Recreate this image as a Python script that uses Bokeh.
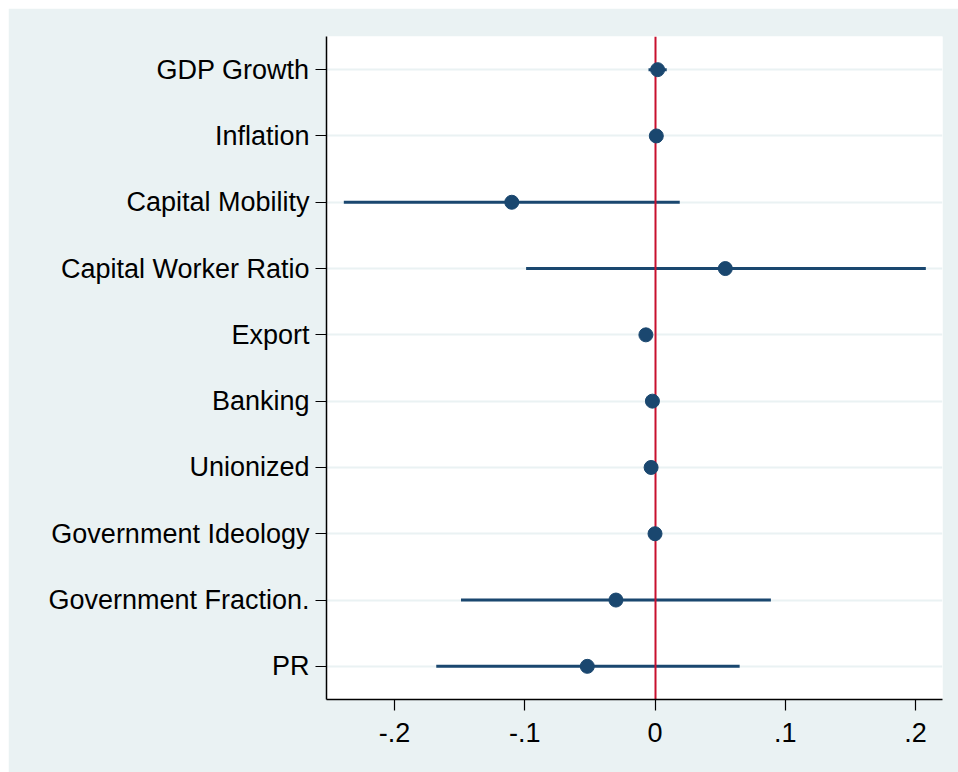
from bokeh.plotting import figure
from bokeh.models import FixedTicker, ColumnDataSource
from bokeh.embed import file_html
from bokeh.resources import INLINE

variables = ["GDP Growth", "Inflation", "Capital Mobility", "Capital Worker Ratio",
             "Export", "Banking", "Unionized", "Government Ideology",
             "Government Fraction.", "PR"]
coef = [0.002, 0.001, -0.110, 0.054, -0.007, -0.002, -0.003, 0.000, -0.030, -0.052]
ci_low = [-0.005, 0.000, -0.239, -0.099, -0.008, -0.003, -0.004, -0.001, -0.149, -0.168]
ci_high = [0.009, 0.002, 0.019, 0.208, -0.006, -0.001, -0.002, 0.001, 0.089, 0.065]
x_ticks = [-0.2, -0.1, 0.0, 0.1, 0.2]
x_tick_labels = ["-.2", "-.1", "0", ".1", ".2"]

BG = "#EAF2F3"
NAVY = "#1A476F"
RED = "#C8102E"
FONT = "Liberation Sans"

src = ColumnDataSource(dict(var=variables, coef=coef, lo=ci_low, hi=ci_high))

p = figure(width=950, height=764, output_backend="svg", toolbar_location=None,
           y_range=list(reversed(variables)), x_range=(-0.2523, 0.2208),
           min_border_left=318, min_border_right=16, min_border_top=28,
           min_border_bottom=73)
p.margin = (8, 0, 0, 8)
p.y_range.range_padding = 0
p.background_fill_color = "white"
p.border_fill_color = BG
p.outline_line_color = None

p.segment(x0="lo", x1="hi", y0="var", y1="var", source=src,
          line_color=NAVY, line_width=3)
p.vspan(x=[0], line_color=RED, line_width=2)
p.scatter(x="coef", y="var", source=src, size=14, fill_color=NAVY,
          line_color=NAVY, marker="circle")

p.xgrid.visible = False
p.ygrid.grid_line_color = BG
p.ygrid.grid_line_width = 2

p.xaxis.ticker = FixedTicker(ticks=x_ticks)
p.xaxis.major_label_overrides = {t: l for t, l in zip(x_ticks, x_tick_labels)}

for ax in (p.xaxis, p.yaxis):
    ax.axis_line_color = "black"
    ax.axis_line_width = 1.5
    ax.major_tick_line_color = "black"
    ax.major_tick_line_width = 1.2
    ax.major_tick_out = 11
    ax.major_tick_in = 0
    ax.minor_tick_line_color = None
    ax.major_label_text_font = FONT
    ax.major_label_text_font_size = "27px"
    ax.major_label_text_color = "black"

p.xaxis.major_label_standoff = 12
p.yaxis.major_label_standoff = 6

open("out.html", "w").write(file_html(p, INLINE))
